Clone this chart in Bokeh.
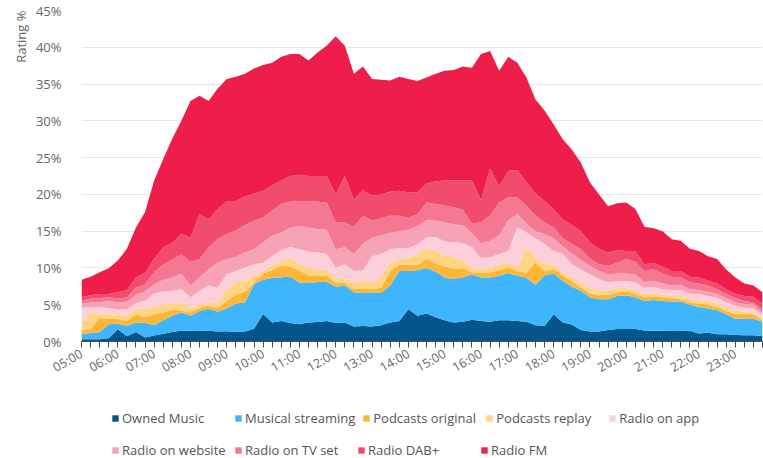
from bokeh.plotting import figure
from bokeh.models import ColumnDataSource, Range1d, FixedTicker, Legend, LegendItem, Title
from bokeh.layouts import column
from bokeh.embed import file_html
from bokeh.resources import INLINE

times = ["05:00", "05:15", "05:30", "05:45", "06:00", "06:15", "06:30", "06:45",
         "07:00", "07:15", "07:30", "07:45", "08:00", "08:15", "08:30", "08:45",
         "09:00", "09:15", "09:30", "09:45", "10:00", "10:15", "10:30", "10:45",
         "11:00", "11:15", "11:30", "11:45", "12:00", "12:15", "12:30", "12:45",
         "13:00", "13:15", "13:30", "13:45", "14:00", "14:15", "14:30", "14:45",
         "15:00", "15:15", "15:30", "15:45", "16:00", "16:15", "16:30", "16:45",
         "17:00", "17:15", "17:30", "17:45", "18:00", "18:15", "18:30", "18:45",
         "19:00", "19:15", "19:30", "19:45", "20:00", "20:15", "20:30", "20:45",
         "21:00", "21:15", "21:30", "21:45", "22:00", "22:15", "22:30", "22:45",
         "23:00", "23:15", "23:30", "23:45"]

x_tick_labels = ["05:00", "06:00", "07:00", "08:00", "09:00", "10:00", "11:00", "12:00",
                 "13:00", "14:00", "15:00", "16:00", "17:00", "18:00", "19:00", "20:00",
                 "21:00", "22:00", "23:00"]

y_ticks = [0, 5, 10, 15, 20, 25, 30, 35, 40, 45]
y_tick_labels = ["0%", "5%", "10%", "15%", "20%", "25%", "30%", "35%", "40%", "45%"]

owned_music = [
    0.3, 0.3, 0.3, 0.45, 1.65, 0.7, 1.3, 0.55, 0.8, 1.05,
    1.3, 1.5, 1.45, 1.5, 1.45, 1.35, 1.4, 1.3, 1.35, 1.75,
    3.75, 2.6, 2.8, 2.5, 2.35, 2.6, 2.65, 2.8, 2.5, 2.6,
    2.05, 2.1, 2.05, 2.2, 2.6, 2.8, 4.4, 3.5, 3.8, 3.3,
    2.9, 2.6, 2.7, 2.95, 2.8, 2.7, 2.9, 2.9, 2.8, 2.7,
    2.2, 2.1, 3.7, 2.6, 2.3, 1.55, 1.35, 1.35, 1.55, 1.7,
    1.7, 1.7, 1.5, 1.45, 1.45, 1.5, 1.5, 1.45, 1.1, 1.2,
    1.0, 1.0, 0.9, 0.85, 0.85, 0.75]

musical_streaming = [
    0.7, 0.85, 0.95, 1.9, 0.75, 1.4, 1.3, 1.95, 1.45, 1.85,
    2.2, 2.45, 2.05, 2.65, 3.0, 2.7, 3.1, 3.85, 4.0, 6.05,
    4.65, 6.05, 5.95, 6.35, 5.65, 5.35, 5.45, 5.3, 4.95, 5.0,
    4.65, 4.5, 4.65, 4.4, 5.0, 6.8, 5.2, 6.2, 6.2, 6.2,
    5.75, 5.9, 6.05, 6.15, 5.9, 6.0, 6.05, 6.4, 6.15, 6.0,
    5.5, 6.9, 5.55, 5.65, 5.15, 5.35, 4.65, 4.4, 4.2, 4.5,
    4.6, 4.3, 4.0, 4.2, 4.05, 3.95, 3.95, 3.55, 3.6, 3.3,
    3.25, 2.7, 2.2, 2.25, 2.25, 1.95]

podcasts_original = [
    0.55, 0.55, 1.95, 0.7, 0.65, 0.7, 1.1, 0.8, 1.45, 1.05,
    0.8, 0.25, 0.45, 0.45, 0.45, 0.45, 1.0, 1.25, 1.4, 0.15,
    0.85, 1.05, 1.6, 1.35, 1.65, 1.05, 0.9, 0.9, 0.45, 0.4,
    0.45, 0.55, 0.45, 0.7, 2.0, 0.9, 0.8, 0.75, 1.2, 1.15,
    1.55, 1.4, 1.25, 0.3, 0.6, 0.7, 0.75, 0.8, 0.65, 0.65,
    3.05, 0.6, 0.6, 0.7, 0.75, 0.45, 0.55, 0.55, 0.6, 0.45,
    0.5, 0.5, 0.5, 0.45, 0.5, 0.4, 0.3, 0.3, 0.45, 0.5,
    0.45, 0.4, 0.6, 0.6, 0.6, 0.2]

podcasts_replay = [
    0.9, 2.25, 0.6, 0.65, 0.55, 0.7, 0.8, 1.2, 1.0, 1.05,
    0.9, 1.1, 0.6, 0.4, 0.5, 0.7, 1.5, 1.8, 1.55, 0.95,
    0.35, 0.7, 0.55, 1.2, 0.95, 1.05, 0.8, 0.8, 0.6, 0.7,
    0.85, 1.1, 0.95, 1.4, 1.15, 0.7, 0.95, 1.45, 1.4, 1.7,
    1.6, 1.65, 1.0, 0.7, 0.4, 0.7, 0.75, 0.65, 0.5, 3.45,
    0.65, 0.9, 0.65, 0.45, 0.5, 0.65, 0.7, 0.6, 0.55, 0.6,
    0.5, 0.4, 0.5, 0.4, 0.35, 0.35, 0.45, 0.45, 0.45, 0.5,
    0.45, 0.5, 0.5, 0.4, 0.2, 0.4]

radio_on_app = [
    2.1, 0.7, 0.85, 0.85, 0.7, 0.9, 0.7, 1.05, 1.85, 1.8,
    1.7, 1.8, 1.45, 1.9, 2.2, 2.1, 2.15, 1.4, 1.75, 1.6,
    1.1, 1.2, 1.5, 1.45, 1.95, 2.15, 2.3, 2.1, 1.55, 1.8,
    1.6, 1.45, 3.5, 3.2, 1.8, 1.5, 1.35, 1.3, 1.6, 1.85,
    1.8, 1.95, 2.35, 2.7, 1.65, 1.35, 1.45, 1.6, 5.4, 2.05,
    2.6, 2.8, 1.8, 2.5, 1.8, 1.8, 1.9, 1.6, 1.15, 0.95,
    0.9, 1.15, 0.8, 0.9, 0.75, 0.8, 0.8, 0.75, 0.85, 0.7,
    0.75, 0.7, 0.65, 0.5, 0.6, 0.3]

radio_on_website = [
    0.55, 0.65, 0.65, 1.0, 1.0, 1.0, 1.15, 1.25, 1.25, 1.55,
    1.8, 2.15, 1.6, 1.8, 2.25, 3.4, 2.05, 1.9, 2.05, 2.05,
    2.75, 2.8, 2.4, 2.65, 3.15, 3.3, 3.2, 3.3, 2.5, 2.3,
    2.3, 3.6, 2.5, 2.5, 2.25, 2.3, 2.5, 2.5, 2.3, 2.2,
    2.6, 2.4, 2.45, 1.9, 2.0, 2.25, 2.5, 4.15, 1.8, 1.15,
    1.0, 1.3, 1.75, 1.0, 1.5, 1.25, 1.15, 1.1, 1.05, 1.05,
    1.05, 1.05, 0.75, 0.85, 0.8, 0.6, 0.7, 0.6, 0.55, 0.55,
    0.55, 0.6, 0.45, 0.5, 0.5, 0.3]

radio_on_tv_set = [
    0.45, 0.5, 0.6, 0.45, 0.5, 0.6, 1.0, 1.0, 1.6, 2.15,
    2.4, 2.65, 3.2, 2.5, 2.95, 3.2, 3.4, 3.6, 3.75, 3.85,
    3.4, 3.4, 3.9, 3.5, 3.4, 3.6, 3.7, 3.7, 3.65, 3.4,
    3.7, 3.8, 2.3, 2.4, 2.3, 2.1, 1.65, 1.6, 2.4, 2.3,
    2.3, 2.35, 2.1, 1.3, 2.85, 3.4, 4.5, 3.1, 2.3, 2.5,
    2.1, 1.6, 1.45, 1.15, 1.3, 1.5, 1.0, 0.9, 1.2, 1.45,
    1.95, 1.75, 1.55, 1.6, 1.35, 1.2, 1.0, 0.95, 0.9, 0.85,
    0.65, 0.55, 0.6, 0.4, 0.3, 0.5]

radio_dab = [
    0.5, 0.5, 0.55, 0.45, 0.9, 1.0, 1.35, 1.5, 1.8, 2.3,
    2.3, 2.7, 3.3, 6.1, 3.8, 4.1, 4.5, 4.0, 3.85, 3.7,
    3.65, 3.4, 3.2, 3.5, 3.55, 3.4, 3.5, 3.6, 3.8, 6.3,
    3.7, 3.5, 3.4, 3.2, 3.3, 3.4, 3.4, 2.95, 2.55, 3.1,
    3.4, 3.65, 4.0, 5.9, 3.05, 6.4, 2.2, 3.6, 3.7, 3.2,
    3.0, 2.9, 2.5, 2.55, 2.55, 2.45, 2.15, 2.05, 1.8, 1.7,
    1.1, 1.45, 0.9, 0.85, 0.9, 0.8, 0.9, 0.75, 0.8, 0.65,
    0.8, 0.65, 0.6, 0.7, 0.8, 0.7]

radio_fm = [
    2.35, 2.5, 2.95, 3.5, 4.3, 5.6, 6.8, 8.3, 10.7, 12.0,
    14.2, 15.4, 18.6, 16.1, 16.1, 16.4, 16.6, 16.9, 16.7, 17.0,
    17.1, 16.7, 16.8, 16.6, 16.45, 15.7, 16.8, 17.7, 21.5, 17.7,
    17.1, 16.8, 15.9, 15.6, 15.1, 15.5, 15.45, 15.15, 14.45, 14.6,
    14.9, 15.0, 15.5, 15.3, 19.85, 16.0, 15.7, 15.5, 14.6, 14.2,
    12.8, 12.3, 11.5, 10.9, 10.25, 9.3, 8.15, 7.45, 6.3, 6.4,
    6.6, 5.7, 5.1, 4.7, 4.85, 4.3, 4.1, 3.8, 3.6, 3.35,
    3.3, 2.7, 2.2, 1.7, 1.5, 1.6]

series_names = ["Owned Music", "Musical streaming", "Podcasts original", "Podcasts replay",
                "Radio on app", "Radio on website", "Radio on TV set", "Radio DAB+", "Radio FM"]
series_keys = ["owned", "streaming", "pod_orig", "pod_replay", "app", "website", "tv", "dab", "fm"]
series_values = [owned_music, musical_streaming, podcasts_original, podcasts_replay,
                 radio_on_app, radio_on_website, radio_on_tv_set, radio_dab, radio_fm]
colors = ["#03558a", "#3fb5fd", "#ffb535", "#ffd485", "#fbd0da",
          "#f7a3b6", "#f47891", "#f14b6e", "#ee1d4a"]

FONT = "Open Sans"

data = {"x": list(range(len(times)))}
for k, v in zip(series_keys, series_values):
    data[k] = v
source = ColumnDataSource(data)

# ---------------- main chart ----------------
p = figure(width=763, height=400, output_backend="svg", toolbar_location=None,
           x_range=Range1d(0, len(times) - 1), y_range=Range1d(0, 45),
           min_border_left=81, min_border_right=1, min_border_top=10, min_border_bottom=59)
p.outline_line_color = None
p.background_fill_color = "white"
p.border_fill_color = "white"

p.varea_stack(stackers=series_keys, x="x", color=colors, source=source)

p.xaxis.ticker = FixedTicker(ticks=list(range(len(times))))
p.xaxis.major_label_overrides = {i: (t if t in x_tick_labels else "") for i, t in enumerate(times)}
p.xaxis.major_label_orientation = 0.52
p.xaxis.major_tick_out = 6
p.xaxis.major_tick_in = 0
p.xaxis.minor_tick_line_color = None
p.xaxis.axis_line_color = "#4d4d4d"
p.xaxis.major_tick_line_color = "#4d4d4d"
p.xaxis.major_label_text_font = FONT
p.xaxis.major_label_text_font_size = "12.5px"
p.xaxis.major_label_text_color = "#666666"
p.xaxis.major_label_standoff = 5

p.yaxis.ticker = FixedTicker(ticks=y_ticks)
p.yaxis.major_label_overrides = {v: l for v, l in zip(y_ticks, y_tick_labels)}
p.yaxis.axis_line_color = None
p.yaxis.major_tick_line_color = None
p.yaxis.minor_tick_line_color = None
p.yaxis.major_label_standoff = 14
p.yaxis.major_label_text_font = FONT
p.yaxis.major_label_text_font_size = "13px"
p.yaxis.major_label_text_color = "#666666"

p.xgrid.visible = False
p.ygrid.grid_line_color = "#e6e6e6"
p.ygrid.grid_line_width = 1

p.add_layout(Title(text="Rating %", align="right", text_font=FONT, text_font_size="13px",
                   text_color="#666666", text_font_style="normal", standoff=5), "left")

# ---------------- legend strip ----------------
lf = figure(width=763, height=58, output_backend="svg", toolbar_location=None,
            x_range=Range1d(0, 1), y_range=Range1d(1000, 1001),
            x_axis_location=None, y_axis_location=None,
            min_border_left=0, min_border_right=0, min_border_top=0, min_border_bottom=0)
lf.grid.visible = False
lf.outline_line_color = None
lf.background_fill_color = "white"
lf.border_fill_color = "white"
legend_renderers = lf.varea_stack(stackers=series_keys, x="x", color=colors, source=source)

rows = [(range(0, 5), (30, 30)), (range(5, 9), (30, -2))]
for idx, loc in rows:
    items = [LegendItem(label=series_names[i], renderers=[legend_renderers[i]]) for i in idx]
    lg = Legend(items=items, orientation="horizontal", location=loc,
                glyph_width=8, glyph_height=8, label_standoff=3, label_width=105,
                label_height=20, spacing=7, padding=0, margin=0,
                border_line_color=None, background_fill_alpha=0,
                label_text_font=FONT, label_text_font_size="13px",
                label_text_color="#555555")
    lf.add_layout(lg, "center")

layout = column(p, lf, spacing=0)
open("out.html", "w").write(file_html(layout, INLINE))
